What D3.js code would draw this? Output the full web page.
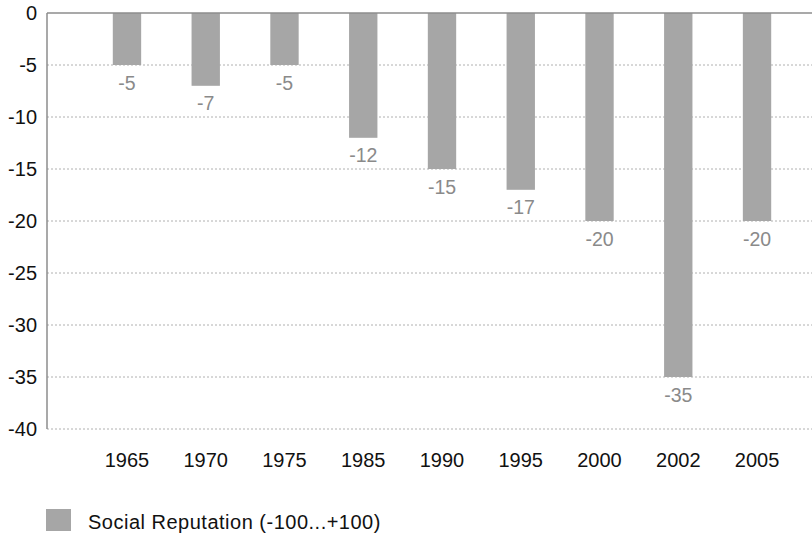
<!DOCTYPE html>
<html><head><meta charset="utf-8">
<script src="https://cdn.jsdelivr.net/npm/d3@7"></script>
<style>body{margin:0;background:#fff}svg{display:block;font-family:"Liberation Sans",Arial,sans-serif}</style>
</head><body>
<svg id="c" width="812" height="537"></svg>
<script>
const years = ["1965","1970","1975","1985","1990","1995","2000","2002","2005"];
const values = [-5,-7,-5,-12,-15,-17,-20,-35,-20];
const yTicks = [0,-5,-10,-15,-20,-25,-30,-35,-40];
const seriesName = "Social Reputation (-100...+100)";

(function(){
const svg = d3.select("#c");
const mLeft = 47, mRight = 812, mTop = 13, mBottom = 429;
const x = d3.scaleBand().domain(years).range([87.6, 796.4]).paddingInner(0.64).paddingOuter(0.32);
const y = d3.scaleLinear().domain([0,-40]).range([mTop,mBottom]);

// gridlines
svg.append("g").selectAll("line").data(yTicks.filter(d=>d!==0)).join("line")
  .attr("x1",mLeft).attr("x2",mRight).attr("y1",d=>y(d)).attr("y2",d=>y(d))
  .attr("stroke","#b0b0b0").attr("stroke-width",1).attr("stroke-dasharray","2,2");

// bars
svg.append("g").selectAll("rect").data(values).join("rect")
  .attr("x",(d,i)=>x(years[i])).attr("width",x.bandwidth())
  .attr("y",y(0)).attr("height",d=>y(d)-y(0)).attr("fill","#a6a6a6");

// value labels
svg.append("g").selectAll("text").data(values).join("text")
  .attr("x",(d,i)=>x(years[i])+x.bandwidth()/2).attr("y",d=>y(d)+24.5)
  .attr("text-anchor","middle").attr("font-size",19.5).attr("fill","#8a8a8a")
  .text(d=>d);

// axes lines
svg.append("line").attr("x1",mLeft).attr("x2",mRight).attr("y1",y(0)).attr("y2",y(0))
  .attr("stroke","#8c8c8c").attr("stroke-width",1.5);
svg.append("line").attr("x1",mLeft).attr("x2",mLeft).attr("y1",y(0)).attr("y2",y(-40))
  .attr("stroke","#8c8c8c").attr("stroke-width",1.5);

// y tick labels
svg.append("g").selectAll("text").data(yTicks).join("text")
  .attr("x",37).attr("y",d=>y(d)+7).attr("text-anchor","end")
  .attr("font-size",20).attr("fill","#111").text(d=>d);

// x labels
svg.append("g").selectAll("text").data(years).join("text")
  .attr("x",d=>x(d)+x.bandwidth()/2).attr("y",467).attr("text-anchor","middle")
  .attr("font-size",20).attr("fill","#111").text(d=>d);

// legend
svg.append("rect").attr("x",46).attr("y",509).attr("width",25).attr("height",22).attr("fill","#a6a6a6");
svg.append("text").attr("x",88).attr("y",529).attr("font-size",20).attr("letter-spacing","0.5px").attr("fill","#111").text(seriesName);
})();
</script>
</body></html>
